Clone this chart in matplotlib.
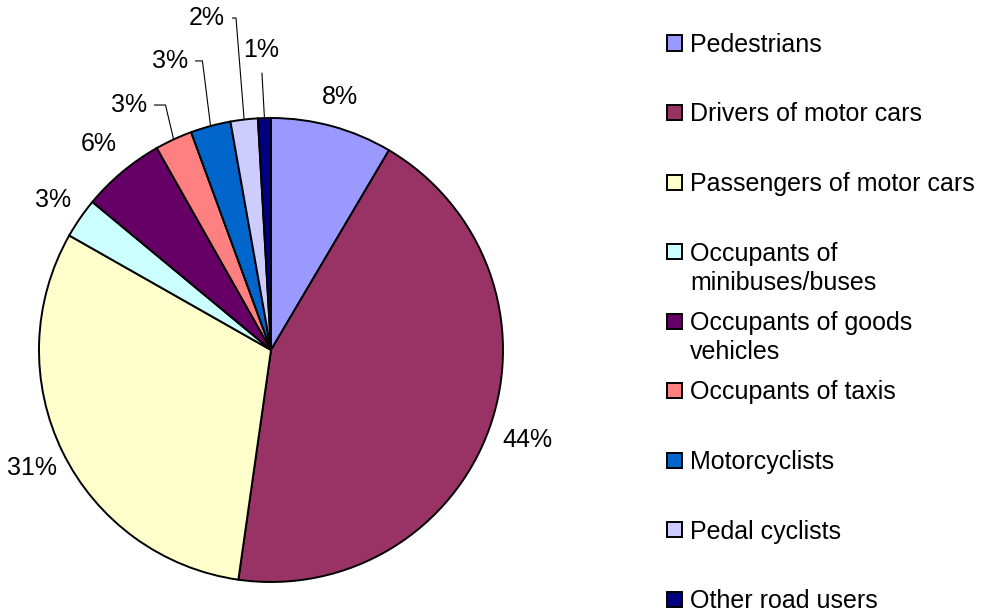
import numpy as np
import matplotlib
matplotlib.use("Agg")
import matplotlib.pyplot as plt
from matplotlib.patches import Rectangle

plt.rcParams['font.family'] = ['Liberation Sans', 'DejaVu Sans']

# data (shares in %)
categories = ['Pedestrians', 'Drivers of motor cars', 'Passengers of motor cars',
              'Occupants of\nminibuses/buses', 'Occupants of goods\nvehicles',
              'Occupants of taxis', 'Motorcyclists', 'Pedal cyclists', 'Other road users']
shares = [8.5, 43.8, 31.0, 2.8, 5.8, 2.6, 2.8, 1.9, 0.9]
pct_labels = ['8%', '44%', '31%', '3%', '6%', '3%', '3%', '2%', '1%']
colors = ['#9999FF', '#993366', '#FFFFCC', '#CCFFFF', '#660066',
          '#FF8080', '#0066CC', '#CCCCFF', '#000080']

W, H = 995, 615
fig = plt.figure(figsize=(W / 100, H / 100), dpi=100)
ax = fig.add_axes([0, 0, 1, 1])

# pie centre and radius in pixels
cx, cy, R = 271, 350, 232

wedges, _ = ax.pie(shares, colors=colors, startangle=90, counterclock=False,
                   radius=1, wedgeprops=dict(edgecolor='black', linewidth=1.4))
ax.set_xlim(-cx / R, (W - cx) / R)
ax.set_ylim(-(H - cy) / R, cy / R)
ax.set_aspect('auto')
ax.axis('off')

# label placement: plain distance, or explicit spot with leader line
label_dist = {0: 1.13, 1: 1.17, 2: 1.15, 3: 1.14, 4: 1.16}
leader_pos = {5: (-0.612, 1.056), 6: (-0.435, 1.246), 7: (-0.276, 1.431), 8: (-0.043, 1.293)}

fs = 18
for i, w in enumerate(wedges):
    mid = np.deg2rad((w.theta1 + w.theta2) / 2)
    ex, ey = np.cos(mid), np.sin(mid)
    if i in label_dist:
        d = label_dist[i]
        ax.text(ex * d, ey * d, pct_labels[i], ha='center', va='center', fontsize=fs)
    else:
        tx, ty = leader_pos[i]
        ax.text(tx, ty, pct_labels[i], ha='center', va='center', fontsize=fs)
        if i == 8:
            ax.plot([tx + 0.004, ex], [ty - 0.1, ey], color='black', lw=0.8)
        else:
            x0 = tx + 0.11
            ax.plot([x0, ex - 0.035, ex], [ty, ty, ey], color='black', lw=0.8)

# legend drawn by hand, Excel style
leg_x_box, leg_x_text = 667, 690
leg_y0, leg_step, line_h = 43, 69.5, 29
box = 15
for i, name in enumerate(categories):
    yc = leg_y0 + i * leg_step
    fig.patches.append(Rectangle((leg_x_box / W, 1 - (yc + box / 2) / H), box / W, box / H,
                                 transform=fig.transFigure, facecolor=colors[i],
                                 edgecolor='black', linewidth=1.4))
    for j, line in enumerate(name.split('\n')):
        yb = yc + 9 + j * line_h
        fig.text(leg_x_text / W, 1 - yb / H, line, ha='left', va='baseline', fontsize=fs)

fig.savefig('out.png', dpi=100)
